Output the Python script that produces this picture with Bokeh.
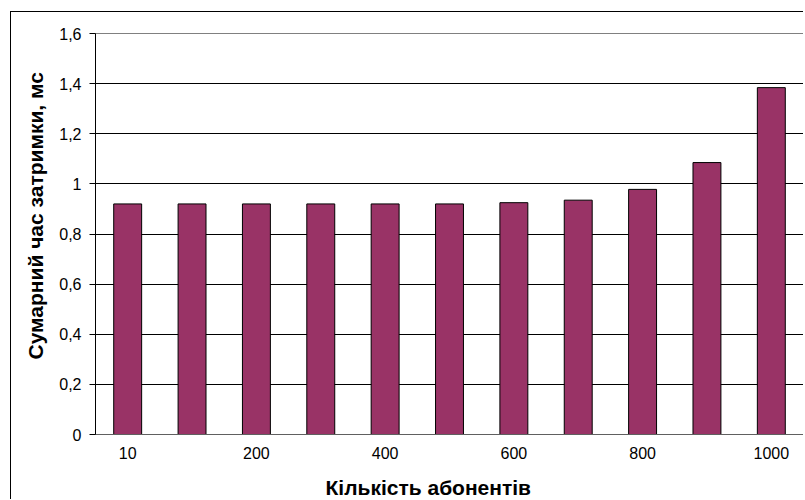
from bokeh.plotting import figure
from bokeh.models import FixedTicker, Range1d, Title
from bokeh.embed import file_html
from bokeh.resources import INLINE

categories = ["10", "100", "200", "300", "400", "500", "600", "700", "800", "900", "1000"]
values = [0.92, 0.92, 0.92, 0.92, 0.92, 0.92, 0.925, 0.935, 0.978, 1.085, 1.384]
y_ticks = [0, 0.2, 0.4, 0.6, 0.8, 1.0, 1.2, 1.4, 1.6]
y_tick_labels = ["0", "0,2", "0,4", "0,6", "0,8", "1", "1,2", "1,4", "1,6"]
x_title = "Кількість абонентів"
y_title = "Сумарний час затримки, мс"

xs = list(range(len(categories)))

p = figure(width=793, height=488, output_backend="svg", toolbar_location=None,
           x_range=Range1d(-0.5, len(categories) - 0.5), y_range=Range1d(0, 1.6),
           min_border_left=84, min_border_right=1, min_border_top=21, min_border_bottom=65,
           margin=(11, 0, 0, 10))
p.styles = {"border-left": "1px solid black", "border-top": "1px solid black"}

p.vbar(x=xs, top=values, width=0.434, fill_color="#993366", line_color="black", line_width=1)

p.outline_line_color = "#808080"
p.outline_line_width = 1

p.xgrid.grid_line_color = None
p.ygrid.grid_line_color = "black"
p.ygrid.grid_line_width = 1
p.ygrid.ticker = FixedTicker(ticks=y_ticks)

p.yaxis.ticker = FixedTicker(ticks=y_ticks)
p.yaxis.major_label_overrides = {t: l for t, l in zip(y_ticks, y_tick_labels)}
p.yaxis.minor_tick_line_color = None
p.yaxis.major_tick_in = 0
p.yaxis.major_tick_out = 6
p.yaxis.axis_line_color = "black"
p.yaxis.major_tick_line_color = "black"
p.yaxis.major_label_standoff = 8

x_tick_idx = xs[::2]
p.xaxis.ticker = FixedTicker(ticks=x_tick_idx)
p.xaxis.major_label_overrides = {i: categories[i] for i in x_tick_idx}
p.xaxis.major_tick_line_color = None
p.xaxis.minor_tick_line_color = None
p.xaxis.axis_line_color = "#606060"
p.xaxis.major_label_standoff = 6
p.xaxis.axis_label = " "
p.xaxis.axis_label_text_font_size = "4px"
p.xaxis.axis_label_standoff = 2

for ax in (p.xaxis, p.yaxis):
    ax.major_label_text_font = "Liberation Sans"
    ax.major_label_text_font_size = "16px"
    ax.major_label_text_color = "black"

xt = Title(text=x_title, align="left", offset=230, text_font="Liberation Sans",
           text_font_size="21px", text_font_style="bold", text_color="black", standoff=4)
p.add_layout(xt, "below")
yt = Title(text=y_title, align="left", offset=75, text_font="Liberation Sans",
           text_font_size="21px", text_font_style="bold", text_color="black", standoff=19)
p.add_layout(yt, "left")

open("out.html", "w").write(file_html(p, INLINE))
